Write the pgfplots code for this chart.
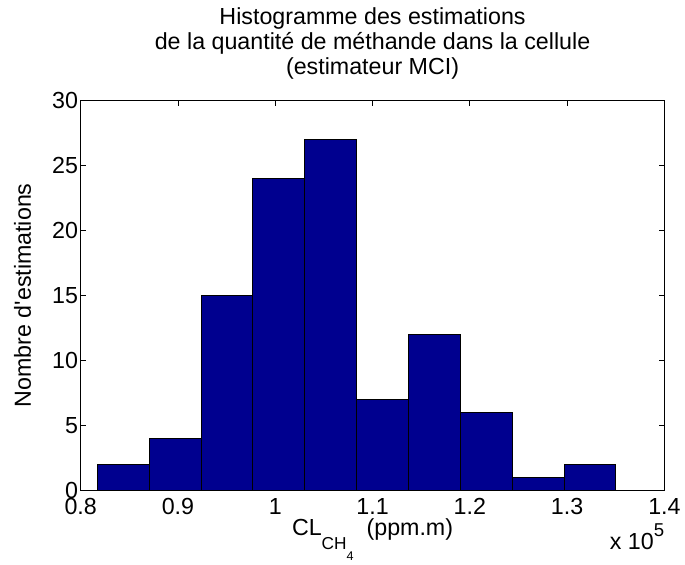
\documentclass[border=0pt]{standalone}
\usepackage{pgfplots}
\pgfplotsset{compat=1.18}
\usetikzlibrary{calc}
\usepackage{fontspec}
\setmainfont{Liberation Sans}
\definecolor{barblue}{rgb}{0,0,0.5625}
\newcommand{\px}{0.75pt}
\newcommand{\lbl}{\fontsize{17.5}{18.75}\selectfont}

\begin{document}
\begin{tikzpicture}
\begin{axis}[
  name=ax, at={(0,0)}, anchor=south west,
  scale only axis, width=439.5pt, height=293.25pt,
  xmin=0.8, xmax=1.4, ymin=0, ymax=30,
  xtick={0.8,0.9,1,1.1,1.2,1.3,1.4},
  ytick={0,5,10,15,20,25,30},
  tick align=inside, major tick length=4pt,
  tick style={black, line width=0.6pt},
  axis line style={line width=0.6pt},
  /pgf/number format/assume math mode=true,
  ticklabel style={font=\lbl},
  xticklabel style={yshift=-2.5pt, /pgf/number format/.cd, fixed, precision=1},
  yticklabel style={xshift=1.5pt},
  title={Histogramme des estimations\\de la quantité de méthande dans la cellule\\(estimateur MCI)},
  every axis title/.style={at={(axis description cs:0.5,1.0537)}, anchor=south,
    inner sep=0pt, align=center, font=\lbl},
  xlabel={CL\raisebox{-10.5pt}{\fontsize{13}{14}\selectfont CH\raisebox{-8pt}{\fontsize{9.5}{10}\selectfont 4}}\ \ (ppm.m)},
  every axis x label/.style={at={(axis description cs:0.5,-0.1176)}, anchor=base,
    inner sep=0pt, font=\lbl},
  ylabel={Nombre d\textquotesingle estimations},
  every axis y label/.style={at={(axis description cs:-0.0853,0.5)}, rotate=90,
    anchor=base, inner sep=0pt, font=\lbl},
]
\addplot[ybar interval, fill=barblue, draw=black, line width=0.6pt] coordinates {
  (0.8171,2)
  (0.8704,4)
  (0.9237,15)
  (0.9770,24)
  (1.0303,27)
  (1.0836,7)
  (1.1369,12)
  (1.1902,6)
  (1.2435,1)
  (1.2968,2)
  (1.3501,2)
};
\end{axis}
\node[anchor=base east, font=\lbl, inner sep=0pt]
  at ($(ax.south east)+(0,-60*\px)$) {x 10\raisebox{10pt}{\fontsize{14}{15}\selectfont 5}};
\path ($(ax.south west)+(-81*\px,-75*\px)$) rectangle ($(ax.north east)+(18*\px,101*\px)$);
\end{tikzpicture}
\end{document}
